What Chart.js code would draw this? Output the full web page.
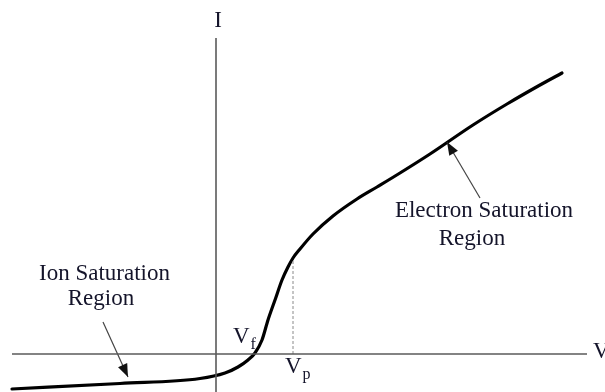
<!DOCTYPE html>
<html>
<head>
<meta charset="utf-8">
<title>Langmuir probe I-V characteristic</title>
<script src="https://cdn.jsdelivr.net/npm/chart.js@4.4.1/dist/chart.umd.min.js"></script>
<style>
  html, body { margin: 0; padding: 0; background: #fff; }
  #wrap { width: 605px; height: 392px; }
</style>
</head>
<body>
<div id="wrap"><canvas id="ivChart" width="605" height="392"></canvas></div>
<script>
// Probe bias V and collected current I (arbitrary units)
var biasV    = [-10.2, -4.8, -0.8, 0.45, 1.1, 1.6, 1.95, 2.3, 2.6, 2.95, 3.3, 3.6, 3.85, 4.2, 4.85, 5.85, 7.05, 8.05, 9.2, 10.7, 12.85, 14.55, 16.2, 17.3];
var currentI = [-1.75, -1.475, -1.225, -0.95, -0.65, -0.3, 0.05, 0.7, 1.7, 2.7, 3.7, 4.35, 4.8, 5.25, 6.0, 6.9, 7.75, 8.35, 9.05, 10.0, 11.45, 12.5, 13.45, 14.05];

// Plasma potential (knee of the curve)
var plasmaV = 3.85;
var plasmaI = 4.75;

// Extent of the drawn V and I axes
var vAxisRange = [-10.2, 18.55];
var iAxisRange = [-1.9, 15.8];

// Arrow tails and tips pointing at the two saturation regions
var ionArrowV = [-5.65, -4.4];
var ionArrowI = [1.6, -1.15];
var elecArrowV = [13.2, 11.55];
var elecArrowI = [7.8, 10.6];

function toPoints(xs, ys) {
    var pts = [];
    for (var i = 0; i < xs.length; i++) {
        pts.push({ x: xs[i], y: ys[i] });
    }
    return pts;
}

var labelFont = '23px "Liberation Serif", "Times New Roman", serif';
var subFont = '16px "Liberation Serif", "Times New Roman", serif';
var textColor = '#14142a';

// Text labels: position in data units, alphabetic baseline
var labels = [
    { text: 'I', v: 0.1, i: 16.35, align: 'center' },
    { text: 'V', v: 18.85, i: -0.2, align: 'left' },
    { text: 'Ion Saturation', v: -5.575, i: 3.7, align: 'center' },
    { text: 'Region', v: -5.75, i: 2.45, align: 'center' },
    { text: 'Electron Saturation', v: 13.4, i: 6.85, align: 'center' },
    { text: 'Region', v: 12.8, i: 5.45, align: 'center' },
    { text: 'V', sub: 'f', v: 0.85, i: 0.55, align: 'left' },
    { text: 'V', sub: 'p', v: 3.45, i: -0.95, align: 'left' }
];

var annotationPlugin = {
    id: 'ivAnnotations',
    afterDatasetsDraw: function(chart) {
        var ctx = chart.ctx;
        var xs = chart.scales.x;
        var ys = chart.scales.y;

        // arrowheads on the pointer datasets
        chart.data.datasets.forEach(function(ds) {
            if (!ds.arrow) return;
            var n = ds.data.length;
            var x0 = xs.getPixelForValue(ds.data[n - 2].x);
            var y0 = ys.getPixelForValue(ds.data[n - 2].y);
            var x1 = xs.getPixelForValue(ds.data[n - 1].x);
            var y1 = ys.getPixelForValue(ds.data[n - 1].y);
            var ang = Math.atan2(y1 - y0, x1 - x0);
            var len = 13, half = 5;
            var bx = x1 - len * Math.cos(ang);
            var by = y1 - len * Math.sin(ang);
            ctx.save();
            ctx.fillStyle = '#111';
            ctx.beginPath();
            ctx.moveTo(x1, y1);
            ctx.lineTo(bx + half * Math.sin(ang), by - half * Math.cos(ang));
            ctx.lineTo(bx - half * Math.sin(ang), by + half * Math.cos(ang));
            ctx.closePath();
            ctx.fill();
            ctx.restore();
        });

        ctx.save();
        ctx.fillStyle = textColor;
        ctx.textBaseline = 'alphabetic';
        labels.forEach(function(lb) {
            var px = xs.getPixelForValue(lb.v);
            var py = ys.getPixelForValue(lb.i);
            ctx.font = labelFont;
            ctx.textAlign = lb.align;
            ctx.fillText(lb.text, px, py);
            if (lb.sub) {
                var w = ctx.measureText(lb.text).width;
                ctx.font = subFont;
                ctx.textAlign = 'left';
                ctx.fillText(lb.sub, px + w + 1, py + 6);
            }
        });
        ctx.restore();
    }
};

function initChart() {
    var canvas = document.getElementById('ivChart');
    if (!canvas) return;

    new Chart(canvas.getContext('2d'), {
        type: 'scatter',
        data: {
            datasets: [
                {
                    // V axis
                    data: toPoints(vAxisRange, [0, 0]),
                    showLine: true,
                    borderColor: '#5a5a5a',
                    borderWidth: 1.6,
                    pointRadius: 0
                },
                {
                    // I axis
                    data: toPoints([0, 0], iAxisRange),
                    showLine: true,
                    borderColor: '#5a5a5a',
                    borderWidth: 1.6,
                    pointRadius: 0
                },
                {
                    // dashed drop line at V_p
                    data: toPoints([plasmaV, plasmaV], [0, plasmaI]),
                    showLine: true,
                    borderColor: '#8a8a8a',
                    borderWidth: 1,
                    borderDash: [3, 2],
                    pointRadius: 0
                },
                {
                    data: toPoints(ionArrowV, ionArrowI),
                    showLine: true,
                    arrow: true,
                    borderColor: '#444',
                    borderWidth: 1.2,
                    pointRadius: 0
                },
                {
                    data: toPoints(elecArrowV, elecArrowI),
                    showLine: true,
                    arrow: true,
                    borderColor: '#444',
                    borderWidth: 1.2,
                    pointRadius: 0
                },
                {
                    // probe characteristic
                    data: toPoints(biasV, currentI),
                    showLine: true,
                    borderColor: '#000',
                    borderWidth: 3.2,
                    cubicInterpolationMode: 'monotone',
                    pointRadius: 0,
                    borderCapStyle: 'round'
                }
            ]
        },
        options: {
            responsive: false,
            animation: false,
            devicePixelRatio: 1,
            layout: { padding: 0 },
            plugins: {
                legend: { display: false },
                tooltip: { enabled: false }
            },
            scales: {
                x: { type: 'linear', display: false, min: -10.8, max: 19.45 },
                y: { type: 'linear', display: false, min: -1.9, max: 17.7 }
            }
        },
        plugins: [annotationPlugin]
    });
}

if (document.readyState === 'loading') {
    document.addEventListener('DOMContentLoaded', initChart);
} else {
    initChart();
}
</script>
</body>
</html>
